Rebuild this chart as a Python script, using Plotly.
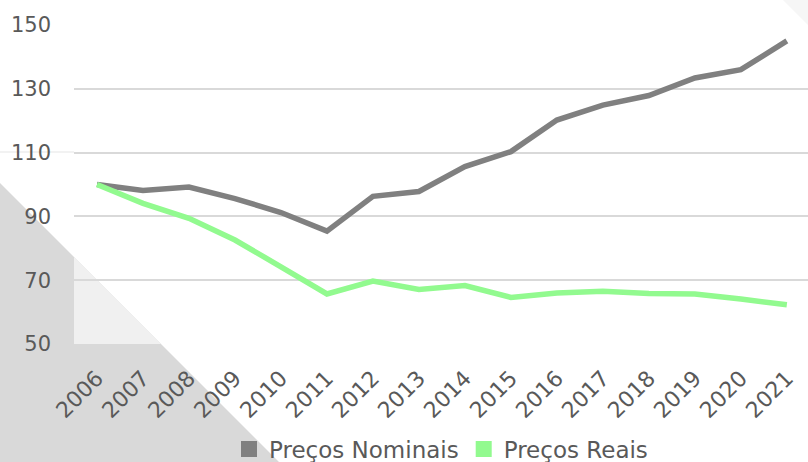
import plotly.graph_objects as go

years = [str(y) for y in range(2006, 2022)]
nominais = [100, 98.1, 99.2, 95.6, 91.2, 85.4, 96.3, 97.8, 105.6, 110.3, 120.2, 124.9, 127.9, 133.4, 136.0, 145.0]
reais = [100, 94.1, 89.4, 82.6, 74.2, 65.7, 69.7, 67.1, 68.3, 64.6, 66.0, 66.5, 65.8, 65.7, 64.1, 62.3]
y_ticks = [50, 70, 90, 110, 130, 150]

GREY = "#808080"
GREEN = "#92FA8F"
TXT = "#595959"
FONT = "DejaVu Sans"

# pixel layout
W, H = 808, 462
L, R, T, B = 74, 0, 25, 118
PW, PH = W - L - R, H - T - B


def px(x, y):
    return (x - L) / PW, (H - B - y) / PH


def path(points):
    pts = [px(x, y) for x, y in points]
    return "M " + " L ".join(f"{a:.4f},{b:.4f}" for a, b in pts) + " Z"


fig = go.Figure()
fig.add_trace(go.Scatter(x=years, y=nominais, mode="lines", line=dict(color=GREY, width=5.5),
                         showlegend=False, name="Preços Nominais"))
fig.add_trace(go.Scatter(x=years, y=reais, mode="lines", line=dict(color=GREEN, width=5.5),
                         showlegend=False, name="Preços Reais"))
# legend swatches
fig.add_trace(go.Scatter(x=[None], y=[None], mode="markers", name="Preços Nominais",
                         marker=dict(symbol="square", size=18, color=GREY)))
fig.add_trace(go.Scatter(x=[None], y=[None], mode="markers", name="Preços Reais",
                         marker=dict(symbol="square", size=18, color=GREEN)))

shapes = [
    dict(type="path", xref="paper", yref="paper", layer="below",
         path=path([(-5, 178), (289, 472), (-5, 472)]),
         fillcolor="#d9d9d9", line=dict(width=0)),
    dict(type="path", xref="paper", yref="paper", layer="below",
         path=path([(74, 257), (161, 344), (74, 344)]),
         fillcolor="#f0f0f0", line=dict(width=0)),
    dict(type="path", xref="paper", yref="paper", layer="below",
         path=path([(778, -5), (813, -5), (813, 30)]),
         fillcolor="#f6f6f6", line=dict(width=0)),
    dict(type="line", xref="paper", yref="paper", layer="below",
         x0=px(0, 152)[0], y0=px(0, 152)[1], x1=px(74, 152)[0], y1=px(74, 152)[1],
         line=dict(color="#eeeeee", width=1.5)),
]

fig.update_layout(
    width=W, height=H,
    margin=dict(l=L, r=R, t=T, b=B, pad=0, autoexpand=False),
    paper_bgcolor="white",
    plot_bgcolor="rgba(0,0,0,0)",
    font=dict(family=FONT, size=20, color=TXT),
    shapes=shapes,
    showlegend=True,
    legend=dict(orientation="h", x=0.5, xanchor="center", y=-(449 - 344) / PH, yanchor="middle",
                font=dict(size=23, color=TXT), itemwidth=30, bgcolor="rgba(0,0,0,0)"),
)
fig.update_xaxes(type="category", categoryorder="array", categoryarray=years,
                 range=[-0.5, 15.46], showgrid=False, zeroline=False, showline=False,
                 tickangle=-45, ticks="", ticklabelstandoff=16, automargin=False,
                 tickfont=dict(size=22, color=TXT), fixedrange=True)
fig.update_yaxes(range=[50, 150], tickvals=y_ticks, showgrid=True, gridcolor="#d9d9d9",
                 gridwidth=1.5, zeroline=False, showline=False, ticks="", automargin=False,
                 ticklabelstandoff=22, tickfont=dict(size=21, color=TXT), fixedrange=True)

fig.write_html("out.html", config={"displayModeBar": False},
               post_script="document.body.style.margin='0';document.body.style.overflow='hidden';")
